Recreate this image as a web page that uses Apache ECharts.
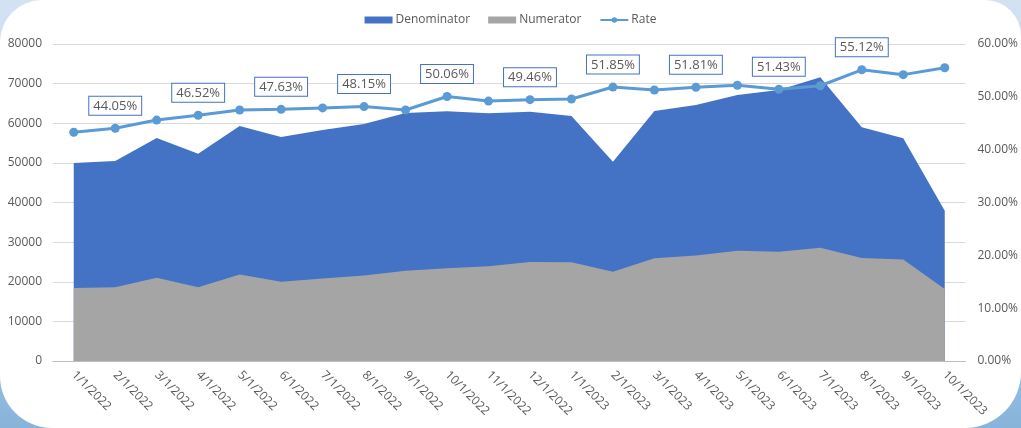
<!DOCTYPE html>
<html>
<head>
<meta charset="utf-8">
<script src="https://cdn.jsdelivr.net/npm/echarts@6/dist/echarts.min.js"></script>
<style>
    html, body {
        margin: 0;
        padding: 0;
        width: 1021px;
        height: 428px;
        overflow: hidden;
        background: linear-gradient(180deg, #d3e2f3 0%, #b1cde8 60%, #88b4da 100%);
    }
    .panel {
        position: absolute;
        left: 0;
        top: 0;
        width: 1021px;
        height: 428px;
        background: #fff;
        border-radius: 42px 36px 56px 52px;
    }
    #chart {
        position: absolute;
        left: 0;
        top: 0;
        width: 1021px;
        height: 428px;
    }
</style>
</head>
<body>
<div class="panel"></div>
<div id="chart"></div>
<script>
// x-axis categories
const months = [
    "1/1/2022", "2/1/2022", "3/1/2022", "4/1/2022", "5/1/2022", "6/1/2022",
    "7/1/2022", "8/1/2022", "9/1/2022", "10/1/2022", "11/1/2022", "12/1/2022",
    "1/1/2023", "2/1/2023", "3/1/2023", "4/1/2023", "5/1/2023", "6/1/2023",
    "7/1/2023", "8/1/2023", "9/1/2023", "10/1/2023",
];

// left axis (counts)
const denominator = [
    50000, 50500, 56300, 52300, 59300, 56500, 58300, 59800, 62600, 63000, 62500,
    62900, 61800, 50300, 63100, 64600, 67100, 68400, 71600, 59000, 56200, 37900,
];
const numerator = [
    18400, 18600, 21000, 18600, 21800, 20000, 20800, 21600, 22800, 23400, 23900,
    25000, 24900, 22500, 25900, 26600, 27800, 27600, 28600, 26000, 25600, 18200,
];

// right axis (percent)
const rate = [
    43.3, 44.05, 45.6, 46.52, 47.5, 47.63, 47.9, 48.15, 47.5, 50.06, 49.2,
    49.46, 49.6, 51.85, 51.3, 51.81, 52.2, 51.43, 52.1, 55.12, 54.2, 55.5,
];
// points that carry a data label
const labeledIdx = [1, 3, 5, 7, 9, 11, 13, 15, 17, 19];

const textColor = "#595959";
const fontFamily = "'Open Sans', 'Noto Sans', sans-serif";

const chart = echarts.init(document.getElementById("chart"));

chart.setOption({
    animation: false,
    textStyle: { fontFamily: fontFamily },
    legend: {
        top: 9,
        left: "center",
        itemGap: 18,
        itemWidth: 28,
        itemHeight: 7,
        textStyle: { color: textColor, fontSize: 12, padding: [0, 0, 0, -2] },
        data: [
            { name: "Denominator", icon: "rect" },
            { name: "Numerator", icon: "rect" },
            { name: "Rate" },
        ],
    },
    grid: {
        left: 53,
        right: 49,
        top: 44,
        bottom: 67,
    },
    xAxis: {
        type: "category",
        data: months,
        boundaryGap: true,
        axisLine: { lineStyle: { color: "#bfbfbf" } },
        axisTick: { show: false },
        axisLabel: {
            color: textColor,
            fontSize: 12,
            rotate: -45,
            interval: 0,
            margin: 12,
        },
    },
    yAxis: [
        {
            type: "value",
            min: 0,
            max: 80000,
            interval: 10000,
            axisLine: { show: false },
            axisTick: { show: false },
            axisLabel: {
                color: textColor,
                fontSize: 12,
                margin: 11,
                formatter: (v) => String(v),
            },
            splitLine: { lineStyle: { color: "#d9d9d9" } },
        },
        {
            type: "value",
            min: 0,
            max: 60,
            interval: 10,
            axisLine: { show: false },
            axisTick: { show: false },
            splitLine: { show: false },
            axisLabel: {
                color: textColor,
                fontSize: 12,
                margin: 12,
                formatter: (v) => v.toFixed(2) + "%",
            },
        },
    ],
    series: [
        {
            name: "Denominator",
            type: "line",
            data: denominator,
            symbol: "none",
            lineStyle: { width: 0 },
            itemStyle: { color: "#4472c4" },
            areaStyle: { color: "#4472c4", opacity: 1 },
            z: 1,
        },
        {
            name: "Numerator",
            type: "line",
            data: numerator,
            symbol: "none",
            lineStyle: { width: 0 },
            itemStyle: { color: "#a5a5a5" },
            areaStyle: { color: "#a5a5a5", opacity: 1 },
            z: 2,
        },
        {
            name: "Rate",
            type: "line",
            yAxisIndex: 1,
            data: rate.map((v, i) => ({
                value: v,
                label: { show: labeledIdx.includes(i) },
            })),
            symbol: "circle",
            symbolSize: 9,
            lineStyle: { color: "#5b9bd5", width: 3 },
            itemStyle: { color: "#5b9bd5" },
            label: {
                position: "top",
                distance: 9,
                color: textColor,
                fontSize: 13,
                backgroundColor: "#fff",
                borderColor: "#4472c4",
                borderWidth: 1,
                padding: [3, 4, 2, 4],
                formatter: (p) => p.value.toFixed(2) + "%",
            },
            z: 3,
        },
    ],
});
</script>
</body>
</html>
